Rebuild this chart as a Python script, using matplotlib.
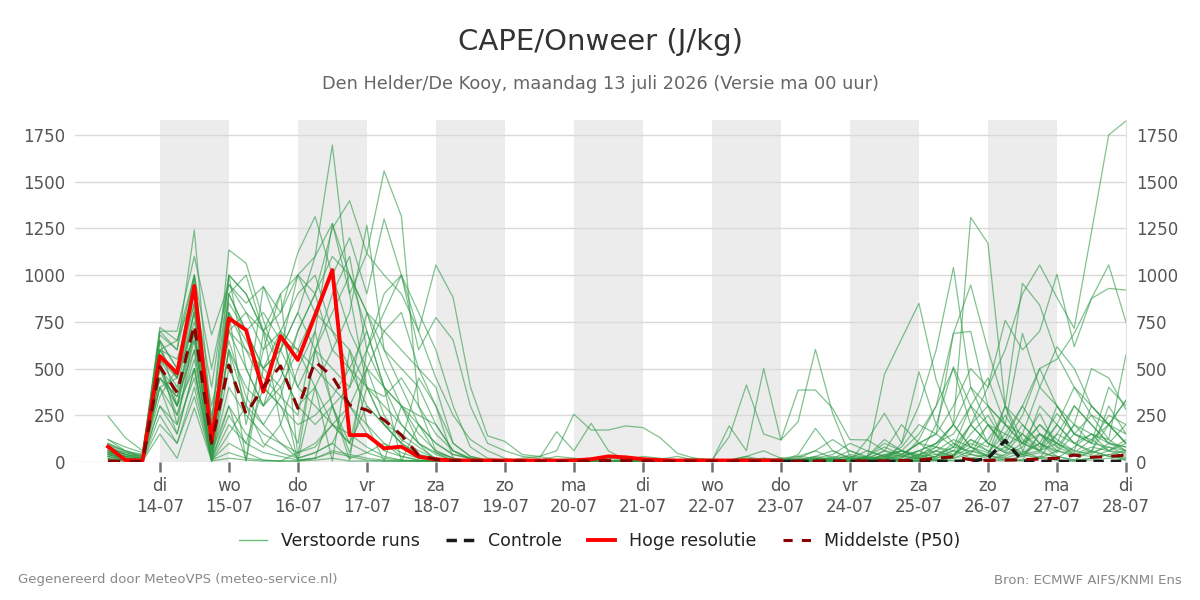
"""
CAPE/Onweer ensemble plume for Den Helder/De Kooy.

Ensemble members (green spaghetti), control run, high-resolution run and
the ensemble median, 6-hourly steps from 13-07 06 UTC.
"""

import matplotlib.pyplot as plt
import numpy as np
import pandas as pd

START = "2026-07-13 06:00"
N_STEPS = 60
DAY_NAMES = ["ma", "di", "wo", "do", "vr", "za", "zo"]

# high resolution run (first 10 days)
HRES = [82, 10, 8, 567, 475, 942, 109, 769, 706, 376, 674, 546,
        785, 1027, 144, 144, 73, 82, 28, 14, 8, 8, 8, 8,
        8, 8, 8, 8, 15, 30, 25, 15, 10, 8, 8, 8,
        8, 8, 8, 8]

# median (P50) of the ensemble
MEDIAN = [7, 3, 3, 510, 371, 733, 100, 519, 257, 403, 514, 287,
          537, 457, 305, 278, 225, 144, 37, 14, 8, 6, 5, 5,
          5, 5, 5, 5, 6, 8, 8, 6, 5, 5, 5, 5,
          5, 5, 5, 5, 5, 5, 5, 5, 6, 6, 8, 10,
          20, 28, 12, 8, 10, 12, 16, 20, 37, 25, 30, 37]

# control run, visible after the HRES run stops
CONTROL = [3, 3, 3, 3, 3, 3, 3, 3, 3, 3, 3,
           3, 20, 115, 5, 3, 3, 3, 3, 3, 3]

MEMBERS = [
    [60, 20, 10, 520, 300, 820, 60, 900, 700, 500, 600, 800,
     1100, 1696, 900, 400, 200, 100, 40, 20, 10, 5, 5, 5,
     5, 5, 5, 5, 5, 5, 5, 5, 5, 5, 5, 10,
     10, 20, 10, 5, 30, 20, 10, 5, 10, 40, 30, 20,
     60, 120, 80, 30, 300, 200, 100, 260, 150, 120, 200, 330],
    [90, 40, 20, 600, 450, 980, 100, 700, 500, 300, 450, 700,
     900, 1250, 1398, 1116, 1557, 1316, 300, 60, 20, 10, 5, 5,
     5, 5, 5, 5, 5, 5, 5, 5, 5, 5, 5, 5,
     5, 5, 10, 5, 20, 10, 5, 5, 15, 60, 40, 100,
     40, 30, 80, 200, 150, 100, 260, 80, 40, 60, 30, 20],
    [120, 60, 30, 700, 600, 1241, 200, 1135, 1063, 760, 500, 300,
     400, 600, 800, 1267, 600, 400, 200, 100, 40, 20, 10, 5,
     5, 5, 5, 5, 5, 5, 5, 5, 5, 5, 5, 5,
     10, 30, 60, 20, 10, 30, 60, 20, 10, 20, 60, 40,
     10, 30, 120, 60, 20, 10, 150, 100, 40, 80, 60, 30],
    [50, 10, 5, 400, 250, 600, 20, 500, 300, 940, 700, 400,
     300, 200, 100, 500, 250, 120, 60, 20, 10, 5, 5, 5,
     5, 5, 5, 5, 5, 5, 5, 5, 5, 5, 5, 5,
     5, 5, 10, 20, 30, 60, 20, 10, 30, 100, 60, 150,
     300, 500, 200, 400, 600, 900, 1054, 880, 715, 1230, 1750, 1825],
    [40, 20, 10, 450, 350, 700, 50, 300, 150, 80, 200, 500,
     700, 300, 100, 50, 20, 10, 5, 5, 5, 5, 5, 5,
     5, 5, 5, 5, 5, 5, 5, 5, 5, 5, 5, 5,
     5, 5, 5, 5, 10, 20, 5, 10, 20, 30, 10, 40,
     80, 200, 1309, 1170, 300, 60, 20, 150, 300, 200, 100, 80],
    [80, 30, 10, 650, 500, 900, 150, 800, 600, 400, 300, 200,
     250, 350, 500, 300, 200, 150, 80, 20, 10, 5, 5, 5,
     5, 5, 5, 5, 5, 5, 5, 5, 5, 5, 5, 5,
     5, 10, 5, 5, 20, 60, 120, 60, 20, 469, 660, 849,
     438, 200, 80, 30, 120, 300, 150, 60, 200, 100, 400, 300],
    [30, 10, 5, 300, 150, 500, 20, 400, 250, 150, 100, 50,
     80, 200, 300, 150, 60, 30, 10, 5, 5, 5, 5, 5,
     5, 5, 5, 5, 5, 5, 5, 5, 5, 5, 5, 5,
     5, 5, 5, 5, 5, 10, 20, 30, 10, 5, 100, 300,
     600, 1041, 400, 200, 100, 250, 500, 300, 150, 250, 120, 60],
    [70, 50, 40, 550, 400, 800, 300, 700, 800, 600, 700, 900,
     1000, 700, 600, 400, 300, 200, 100, 40, 10, 5, 5, 5,
     5, 5, 5, 5, 5, 5, 5, 5, 5, 5, 5, 5,
     5, 5, 10, 5, 5, 20, 40, 100, 60, 30, 20, 120,
     300, 688, 947, 600, 300, 956, 839, 573, 400, 250, 200, 150],
    [100, 60, 20, 500, 300, 650, 80, 600, 400, 300, 400, 600,
     500, 400, 300, 200, 100, 50, 20, 10, 5, 5, 5, 5,
     5, 5, 5, 5, 5, 5, 5, 5, 5, 5, 5, 5,
     5, 5, 5, 5, 5, 5, 10, 5, 10, 20, 40, 100,
     150, 300, 500, 400, 758, 600, 700, 1004, 617, 875, 929, 920],
    [30, 10, 5, 250, 100, 400, 10, 200, 100, 50, 30, 10,
     20, 50, 30, 10, 5, 5, 5, 5, 5, 5, 5, 5,
     5, 5, 5, 5, 5, 5, 5, 5, 5, 5, 5, 5,
     5, 5, 5, 5, 5, 5, 5, 10, 5, 5, 20, 60,
     100, 200, 80, 50, 150, 300, 500, 550, 688, 875, 1054, 750],
    [245, 130, 60, 600, 650, 900, 400, 1000, 900, 700, 800, 1000,
     800, 1000, 1200, 900, 1300, 1000, 700, 1054, 880, 403, 140, 110,
     40, 30, 60, 256, 171, 171, 193, 184, 130, 46, 20, 15,
     10, 20, 10, 5, 5, 10, 30, 20, 10, 40, 60, 20,
     30, 80, 200, 100, 50, 40, 100, 60, 30, 50, 80, 40],
    [60, 20, 10, 350, 500, 650, 60, 900, 1000, 700, 500, 300,
     200, 300, 400, 600, 800, 1000, 600, 773, 652, 300, 100, 60,
     30, 20, 162, 60, 207, 60, 10, 10, 5, 5, 5, 5,
     5, 5, 5, 5, 10, 30, 10, 5, 10, 20, 10, 5,
     10, 20, 60, 30, 20, 50, 100, 30, 10, 20, 40, 60],
    [20, 5, 5, 200, 100, 350, 10, 100, 50, 10, 5, 50,
     100, 200, 150, 80, 30, 10, 5, 5, 5, 5, 5, 5,
     5, 5, 5, 5, 5, 5, 5, 5, 5, 5, 5, 10,
     135, 412, 150, 118, 385, 385, 287, 120, 118, 261, 100, 483,
     200, 510, 300, 100, 60, 200, 100, 50, 150, 100, 80, 60],
    [50, 30, 20, 600, 550, 850, 100, 850, 700, 500, 600, 400,
     600, 500, 400, 800, 500, 300, 150, 60, 20, 5, 5, 5,
     5, 5, 5, 5, 5, 5, 5, 5, 5, 5, 5, 5,
     193, 60, 500, 118, 216, 603, 260, 30, 20, 60, 200, 100,
     80, 60, 200, 300, 100, 50, 300, 200, 100, 150, 120, 573],
    [10, 5, 5, 150, 20, 290, 5, 20, 10, 5, 5, 5,
     10, 20, 5, 5, 5, 5, 5, 5, 5, 5, 5, 5,
     5, 5, 5, 5, 5, 5, 5, 5, 5, 5, 5, 5,
     5, 5, 5, 5, 5, 5, 10, 5, 5, 5, 10, 20,
     10, 5, 20, 40, 10, 5, 30, 10, 5, 20, 40, 10],
    [80, 40, 30, 700, 700, 1100, 680, 950, 850, 938, 800, 1120,
     1313, 1000, 700, 500, 400, 300, 200, 100, 40, 20, 10, 5,
     5, 5, 5, 5, 5, 5, 5, 5, 5, 5, 5, 5,
     5, 10, 20, 10, 5, 5, 20, 60, 30, 10, 40, 100,
     150, 80, 300, 200, 80, 150, 60, 200, 400, 300, 200, 100],
    [40, 20, 10, 550, 200, 700, 50, 1000, 500, 300, 600, 800,
     600, 900, 1100, 600, 900, 1000, 800, 600, 300, 80, 20, 10,
     5, 5, 5, 5, 5, 5, 5, 5, 5, 5, 5, 5,
     5, 5, 5, 5, 5, 5, 10, 20, 60, 30, 80, 200,
     150, 688, 699, 300, 200, 688, 400, 617, 500, 300, 200, 330],
    [60, 20, 10, 400, 450, 750, 250, 650, 350, 200, 350, 250,
     700, 1276, 1000, 800, 600, 500, 400, 200, 60, 20, 5, 5,
     5, 5, 5, 5, 5, 5, 5, 5, 5, 5, 5, 5,
     5, 5, 5, 10, 5, 5, 5, 10, 20, 10, 5, 10,
     30, 100, 40, 200, 80, 30, 150, 100, 60, 300, 200, 100],
    [100, 50, 30, 650, 500, 1000, 120, 900, 700, 800, 650, 600,
     800, 700, 500, 400, 350, 450, 300, 150, 60, 20, 10, 5,
     5, 5, 5, 5, 5, 5, 5, 5, 5, 5, 5, 5,
     5, 5, 5, 5, 40, 180, 60, 20, 10, 30, 60, 30,
     100, 200, 400, 300, 200, 150, 400, 300, 200, 500, 450, 280],
    [50, 30, 20, 500, 250, 550, 50, 700, 600, 500, 700, 600,
     400, 200, 100, 300, 200, 100, 40, 20, 10, 5, 5, 5,
     5, 5, 5, 5, 5, 5, 5, 5, 5, 5, 5, 5,
     5, 5, 5, 5, 5, 10, 5, 20, 10, 5, 10, 40,
     60, 30, 200, 100, 50, 150, 80, 200, 100, 50, 300, 150],
    [120, 80, 50, 680, 600, 1000, 200, 1000, 900, 700, 600, 1000,
     900, 1100, 1000, 800, 700, 600, 500, 400, 100, 30, 10, 5,
     5, 5, 5, 5, 5, 5, 5, 5, 5, 5, 5, 5,
     5, 5, 5, 5, 10, 5, 5, 5, 20, 10, 5, 30,
     200, 100, 50, 120, 250, 100, 60, 300, 150, 100, 250, 200],
    [30, 10, 10, 450, 300, 500, 20, 250, 100, 400, 300, 100,
     600, 800, 1000, 700, 400, 200, 100, 50, 20, 5, 5, 5,
     5, 5, 5, 5, 5, 5, 5, 5, 5, 5, 5, 5,
     5, 5, 5, 5, 5, 5, 5, 10, 30, 120, 60, 20,
     80, 40, 120, 80, 300, 120, 60, 100, 50, 120, 60, 50],
    [70, 40, 30, 600, 450, 800, 30, 600, 300, 100, 50, 20,
     50, 100, 300, 500, 700, 800, 500, 300, 100, 30, 10, 5,
     5, 5, 5, 5, 5, 5, 5, 5, 5, 5, 5, 5,
     5, 5, 5, 5, 5, 5, 5, 5, 5, 5, 5, 5,
     20, 60, 40, 30, 80, 40, 20, 60, 40, 30, 60, 100],
    [90, 60, 40, 720, 650, 1000, 500, 950, 800, 700, 900, 1000,
     1100, 1276, 900, 1116, 1000, 900, 700, 450, 250, 120, 60, 20,
     5, 5, 5, 5, 5, 5, 5, 5, 5, 5, 5, 5,
     5, 5, 5, 5, 5, 5, 5, 5, 10, 30, 60, 30,
     40, 80, 60, 40, 200, 100, 150, 80, 200, 150, 100, 200],
    [40, 20, 10, 300, 200, 450, 10, 50, 20, 10, 5, 5,
     20, 60, 40, 20, 10, 5, 5, 5, 5, 5, 5, 5,
     5, 5, 5, 5, 5, 5, 5, 5, 5, 5, 5, 5,
     5, 5, 5, 5, 5, 5, 5, 5, 5, 5, 5, 5,
     5, 10, 20, 10, 5, 10, 20, 10, 5, 10, 20, 10],
    [60, 30, 20, 500, 380, 700, 150, 800, 650, 450, 350, 700,
     900, 600, 500, 700, 400, 300, 250, 200, 60, 10, 5, 5,
     5, 5, 5, 5, 5, 5, 5, 5, 5, 5, 5, 5,
     5, 5, 5, 5, 5, 20, 10, 5, 120, 60, 30, 60,
     100, 150, 300, 450, 200, 100, 200, 100, 300, 200, 100, 80],
    [50, 20, 10, 650, 300, 700, 5, 600, 5, 500, 400, 5,
     400, 5, 600, 200, 5, 300, 100, 5, 5, 5, 5, 5,
     20, 30, 10, 5, 5, 20, 10, 5, 5, 10, 20, 5,
     5, 10, 5, 20, 10, 5, 5, 40, 20, 10, 30, 60,
     20, 40, 100, 60, 30, 80, 200, 120, 60, 40, 100, 60],
    [80, 40, 20, 400, 150, 500, 5, 300, 10, 700, 200, 10,
     20, 300, 10, 600, 400, 5, 200, 50, 5, 5, 5, 5,
     5, 10, 30, 20, 5, 5, 10, 30, 20, 5, 5, 5,
     5, 5, 20, 10, 5, 10, 20, 5, 5, 20, 10, 5,
     30, 60, 20, 10, 40, 100, 60, 20, 80, 150, 60, 120],
    [40, 10, 5, 550, 450, 850, 30, 800, 200, 600, 900, 30,
     600, 300, 50, 400, 200, 100, 450, 300, 20, 5, 5, 5,
     10, 5, 5, 20, 10, 5, 5, 5, 15, 30, 10, 5,
     5, 5, 5, 5, 5, 5, 5, 5, 30, 80, 40, 10,
     60, 30, 150, 250, 100, 40, 60, 150, 100, 60, 200, 100],
    [20, 5, 5, 450, 350, 600, 5, 150, 300, 200, 100, 20,
     50, 100, 20, 50, 100, 30, 10, 5, 5, 5, 5, 5,
     5, 5, 5, 5, 5, 5, 5, 5, 5, 5, 5, 5,
     10, 30, 10, 5, 5, 5, 5, 5, 10, 5, 5, 20,
     10, 20, 40, 20, 10, 30, 50, 30, 10, 60, 30, 20],
]

TITLE = "CAPE/Onweer (J/kg)"
SUBTITLE = "Den Helder/De Kooy, maandag 13 juli 2026 (Versie ma 00 uur)"
FOOT_LEFT = "Gegenereerd door MeteoVPS (meteo-service.nl)"
FOOT_RIGHT = "Bron: ECMWF AIFS/KNMI Ens"

TEXT_COLOR = "#555555"


def main() -> None:
    plt.rcParams["font.family"] = "DejaVu Sans"

    times = pd.date_range(START, periods=N_STEPS, freq="6h")
    days = pd.date_range("2026-07-14", "2026-07-28", freq="D")

    fig = plt.figure(figsize=(12, 6), dpi=100)
    ax = fig.add_axes([0.0625, 0.23, 0.8758, 0.57])

    # alternating shaded days
    for d in days[:-1:2]:
        ax.axvspan(d, d + pd.Timedelta(days=1), color="#ececec", lw=0, zorder=0)

    for m in MEMBERS:
        ax.plot(times, m, color="#2e9a46", lw=0.9, alpha=0.6, zorder=2)

    ax.plot(times[N_STEPS - len(CONTROL):], CONTROL, color="#1a1a1a",
            lw=2.5, ls=(0, (3, 2)), zorder=3)
    ax.plot(times[:len(HRES)], HRES, color="#ff0000", lw=2.8, zorder=4)
    ax.plot(times, MEDIAN, color="#8b0000", lw=2.2, ls=(0, (4, 3)), zorder=5)

    ax.set_xlim(pd.Timestamp("2026-07-12 18:30"), pd.Timestamp("2026-07-28 00:00"))
    ax.set_ylim(0, 1830)
    ax.set_yticks(np.arange(0, 1751, 250))
    ax.grid(axis="y", color="#d9d9d9", lw=1)
    ax.set_axisbelow(True)

    ax.set_xticks(days)
    ax.set_xticklabels([f"{DAY_NAMES[d.dayofweek]}\n{d:%d-%m}" for d in days])
    ax.tick_params(axis="x", length=7, width=1.8, color="#707070",
                   labelsize=12, labelcolor=TEXT_COLOR, pad=4)
    ax.tick_params(axis="y", length=0, labelsize=12, labelcolor=TEXT_COLOR,
                   labelright=True, pad=7)

    for side in ["top", "left", "bottom"]:
        ax.spines[side].set_visible(False)
    ax.spines["right"].set_color("#e3e3e3")

    # legend handles
    handles = [
        plt.Line2D([], [], color="#6cbf78", lw=1),
        plt.Line2D([], [], color="#1a1a1a", lw=2.5, ls=(0, (3, 2))),
        plt.Line2D([], [], color="#ff0000", lw=2.8),
        plt.Line2D([], [], color="#8b0000", lw=2.2, ls=(0, (3, 3))),
    ]
    labels = ["Verstoorde runs", "Controle", "Hoge resolutie", "Middelste (P50)"]
    fig.legend(handles, labels, loc="center", bbox_to_anchor=(0.5, 0.098),
               ncol=4, frameon=False, fontsize=12.5, handlelength=1.6,
               columnspacing=1.5, labelcolor="#222222")

    fig.text(0.5, 1 - 42 / 600, TITLE, ha="center", va="center",
             fontsize=21, color="#333333")
    fig.text(0.5, 1 - 84 / 600, SUBTITLE, ha="center", va="center",
             fontsize=12.8, color="#666666")
    fig.text(18 / 1200, 1 - 580 / 600, FOOT_LEFT, ha="left", va="center",
             fontsize=9.5, color="#888888")
    fig.text(1182 / 1200, 1 - 580 / 600, FOOT_RIGHT, ha="right", va="center",
             fontsize=9.5, color="#888888")

    fig.savefig("out.png", dpi=100)
    plt.close(fig)


if __name__ == "__main__":
    main()
